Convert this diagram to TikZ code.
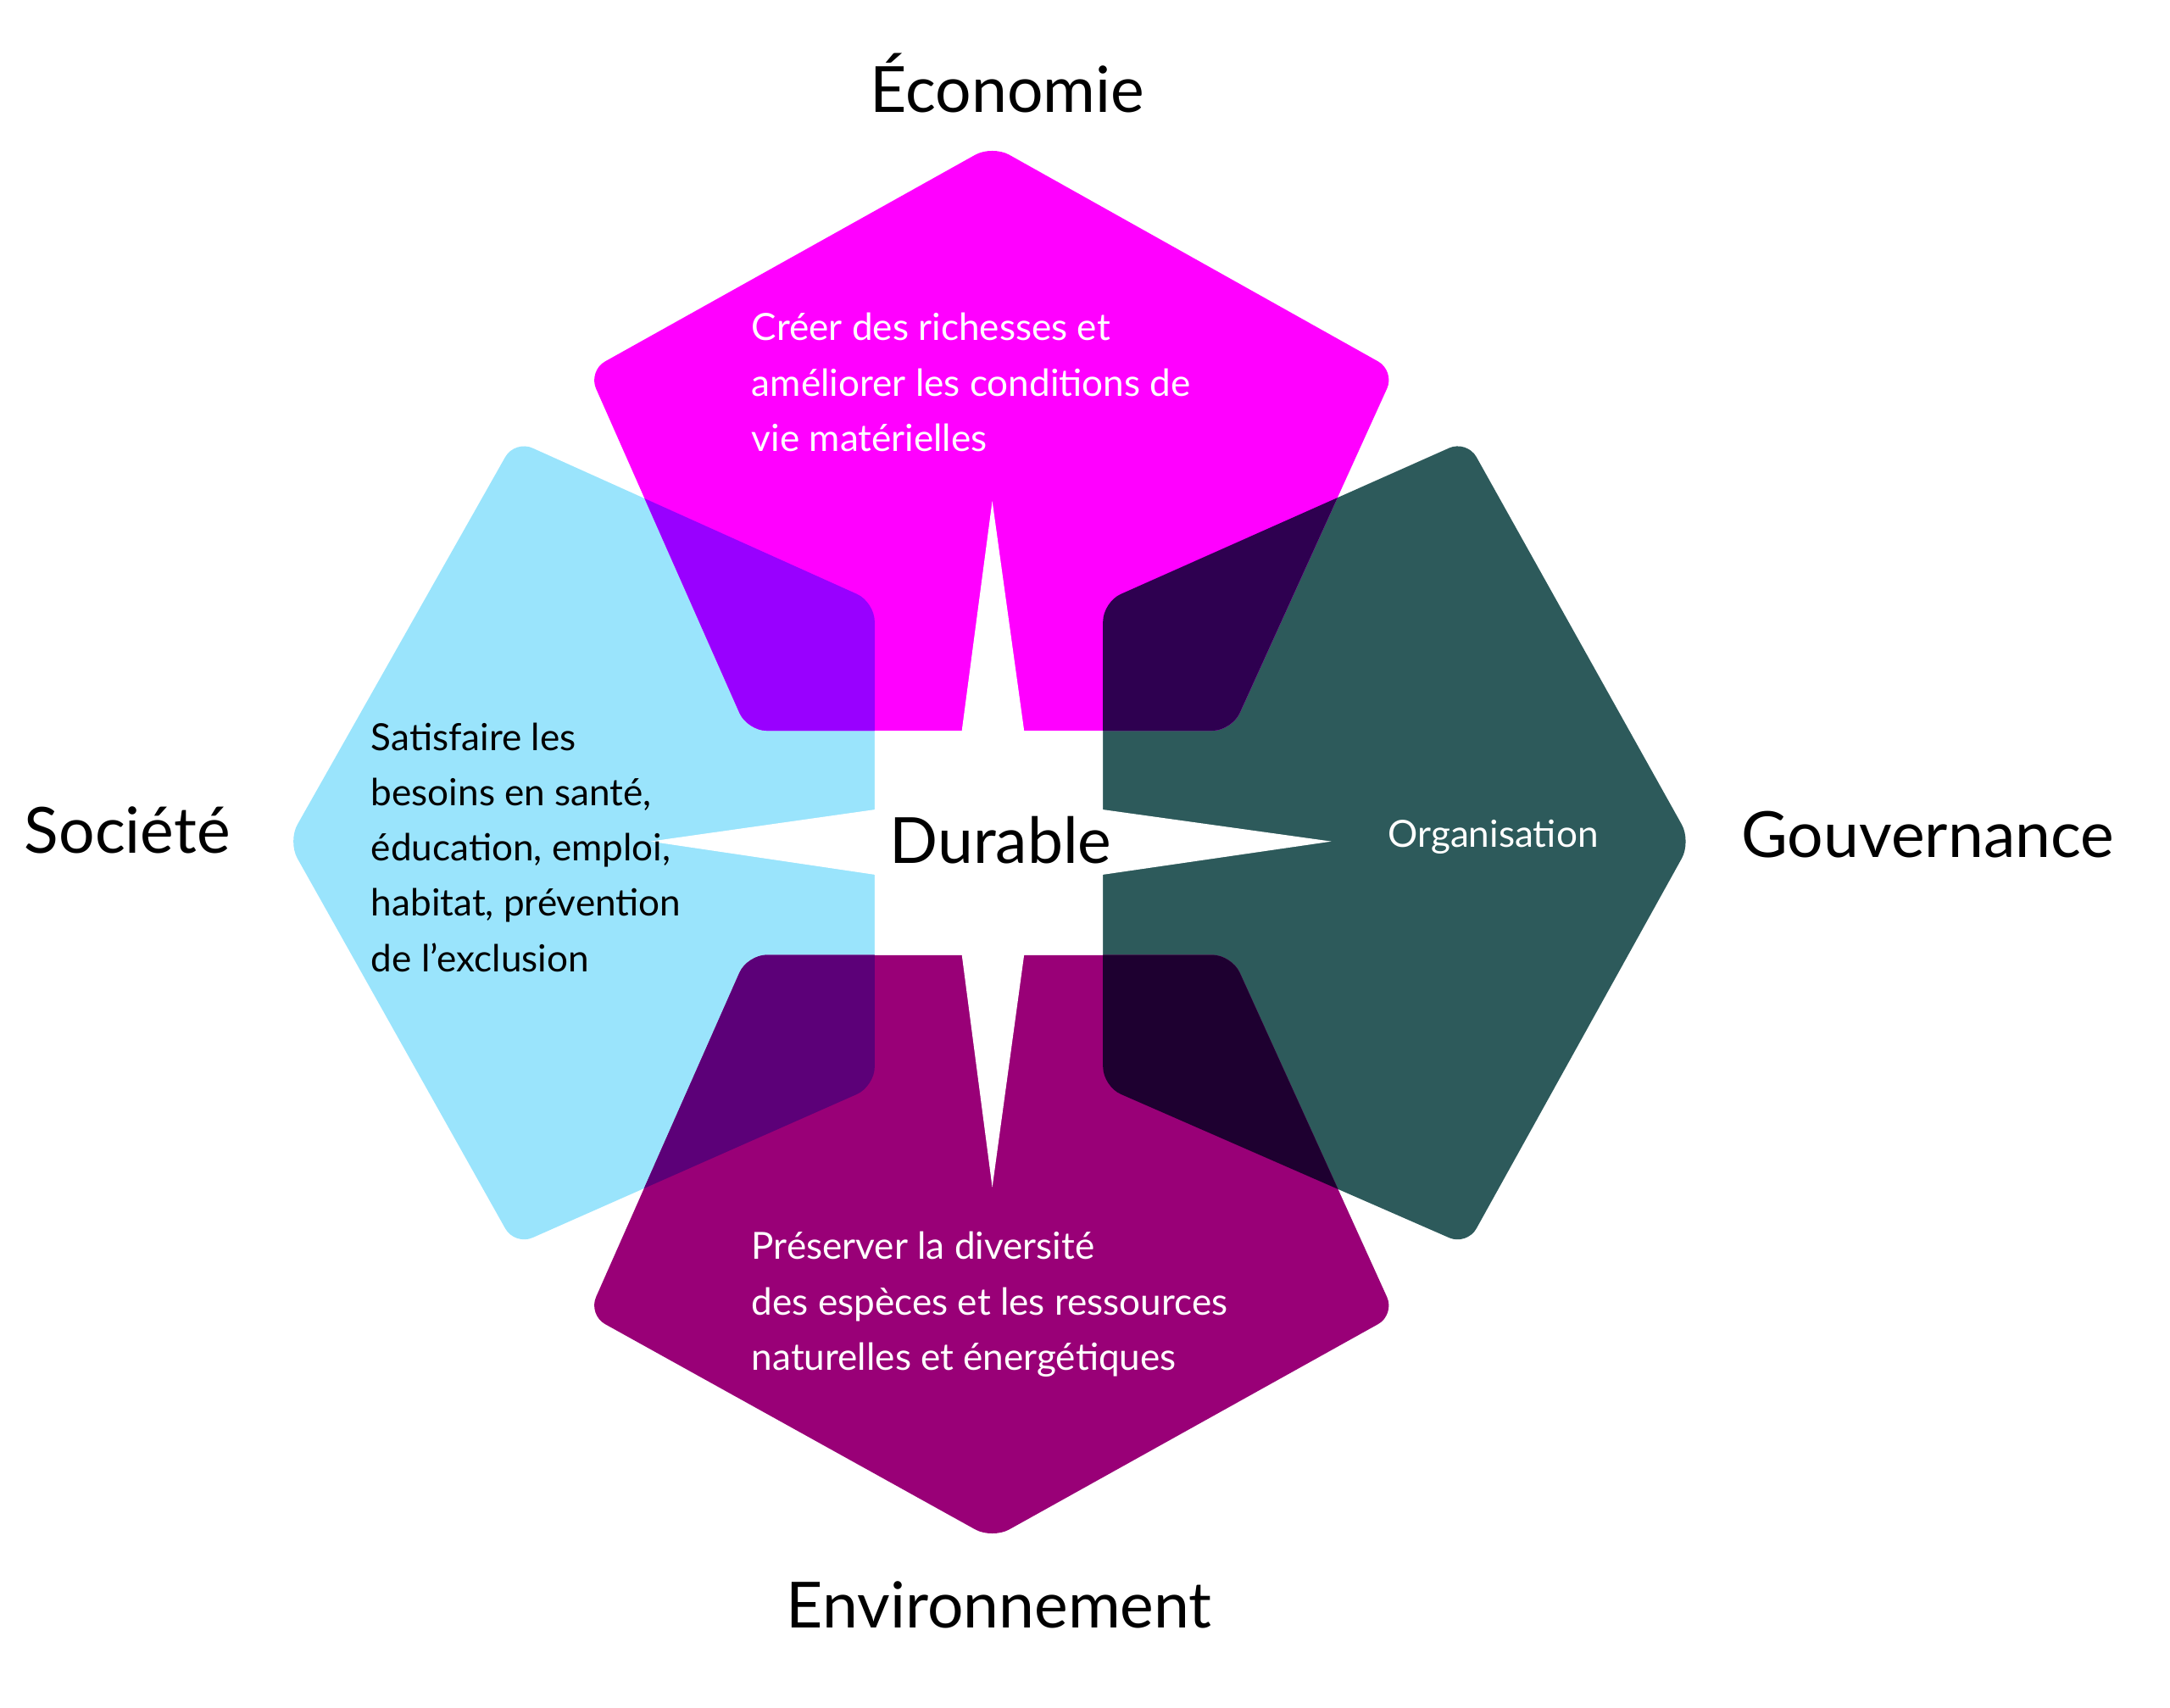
\documentclass[tikz,border=0pt]{standalone}
\usepackage{fontspec}
\setmainfont{Lato}
\definecolor{cblue}{HTML}{9AE4FC}
\definecolor{cteal}{HTML}{2D5A5B}
\definecolor{cmag}{HTML}{FF00FF}
\definecolor{cplum}{HTML}{990077}
\definecolor{ctl}{HTML}{9900FF}
\definecolor{ctr}{HTML}{2E0050}
\definecolor{cbl}{HTML}{5C0078}
\definecolor{cbr}{HTML}{1E0030}
\begin{document}
\begin{tikzpicture}[x=1pt,y=-1pt,
  lbl/.style={font=\fontsize{46}{50}\selectfont},
  desc/.style={font=\fontsize{27}{40}\selectfont,align=left,anchor=north west,inner sep=0pt}]
\useasboundingbox (0,0) rectangle (1568,1234);
\def\top{(717,105)--(1008,268)--(890,528)--(540,528)--(425,268)--cycle}
\def\bot{(540,690)--(890,690)--(1008,950)--(717,1112)--(425,950)--cycle}
\def\lft{(372,318)--(632,435)--(632,785)--(372,900)--(208,608)--cycle}
\def\rgt{(1060,318)--(797,435)--(797,785)--(1060,900)--(1222,608)--cycle}
\fill[cblue,rounded corners=14] \lft;
\fill[cteal,rounded corners=14] \rgt;
\fill[cmag,rounded corners=14] \top;
\fill[cplum,rounded corners=14] \bot;
\begin{scope}\clip[rounded corners=14] \top; \fill[ctl,rounded corners=14] \lft; \fill[ctr,rounded corners=14] \rgt;\end{scope}
\begin{scope}\clip[rounded corners=14] \bot; \fill[cbl,rounded corners=14] \lft; \fill[cbr,rounded corners=14] \rgt;\end{scope}
\fill[white] (717,362)--(740,528)--(797,528)--(797,585)--(962,608)--(797,632)--(797,690)--(740,690)--(717,858)--(695,690)--(632,690)--(632,632)--(470,608)--(632,585)--(632,528)--(695,528)--cycle;
\node[lbl] (eco) at (728,60) {Économie};
\node[lbl] (env) at (722,1160) {Environnement};
\node[lbl] (soc) at (92,600) {Société};
\node[lbl] (gov) at (1393,603) {Gouvernance};
\node[lbl] (dur) at (723,607) {Durable};
\node[font=\fontsize{27}{30}\selectfont,text=white] (org) at (1079,605) {Organisation};
\node[desc,text=white] (teco) at (543,226) {Créer des richesses et\\améliorer les conditions de\\vie matérielles};
\node[desc] (tsoc) at (268,522) {Satisfaire les\\besoins en santé,\\éducation, emploi,\\habitat, prévention\\de l’exclusion};
\node[desc,text=white] (tenv) at (543,890) {Préserver la diversité\\des espèces et les ressources\\naturelles et énergétiques};
\end{tikzpicture}
\end{document}
